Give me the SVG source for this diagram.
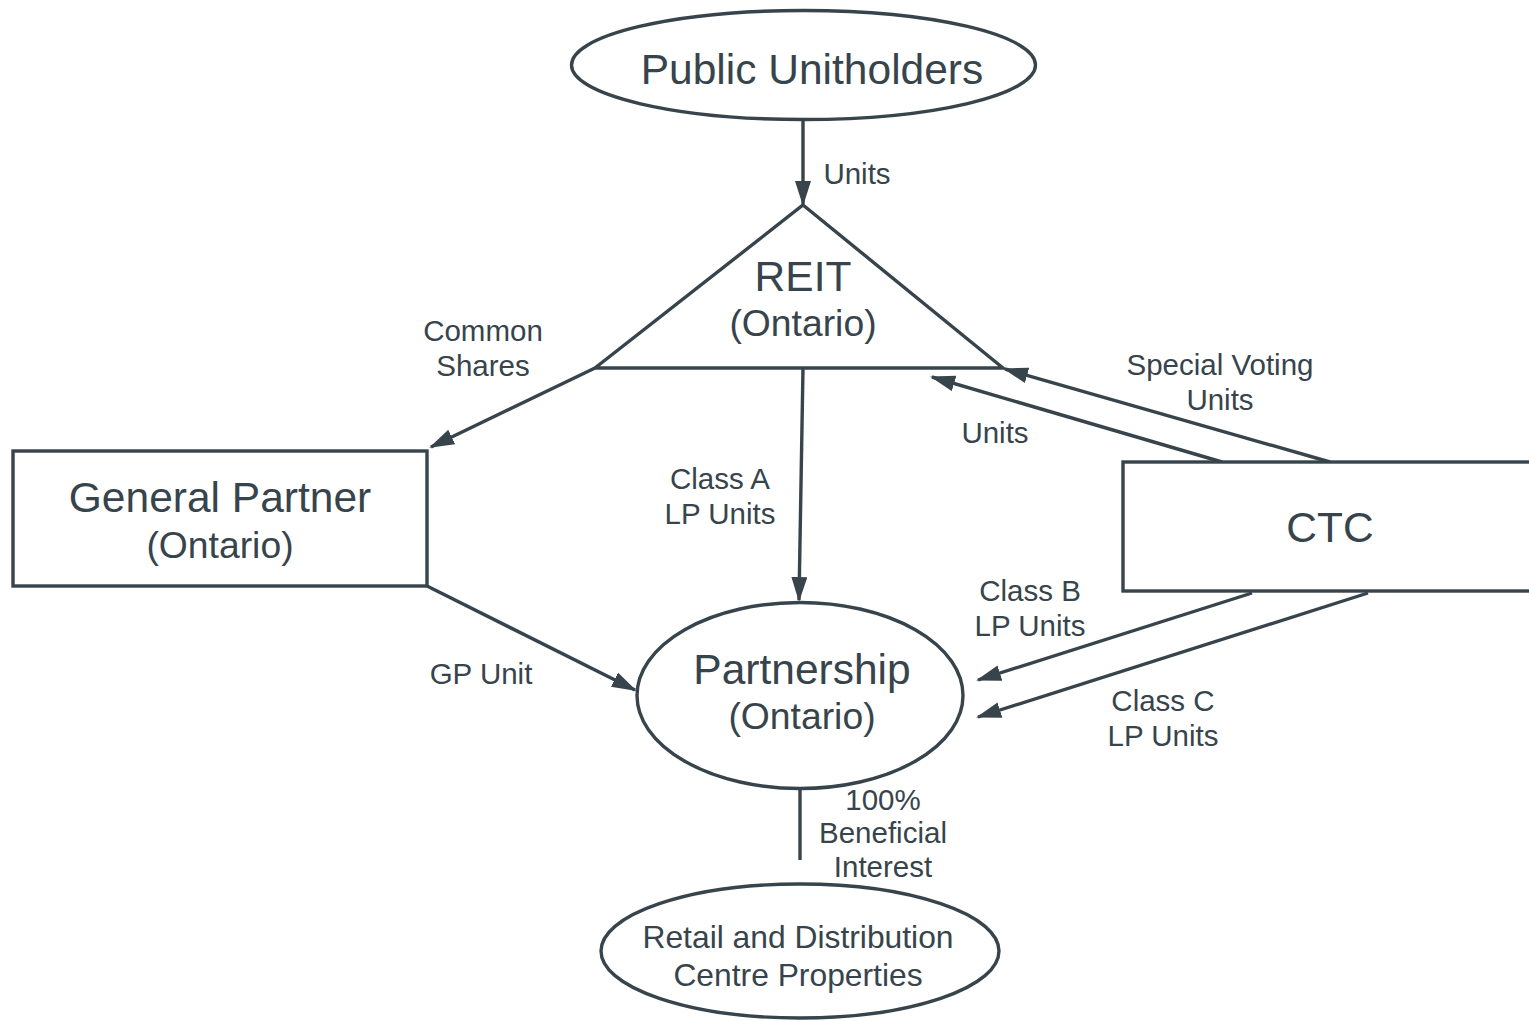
<svg xmlns="http://www.w3.org/2000/svg" width="1529" height="1021" viewBox="0 0 1529 1021">
  <style>
    .shape { fill: #ffffff; stroke: #37444c; stroke-width: 3.4; }
    .conn { fill: none; stroke: #37444c; stroke-width: 3.4; }
    .title { font-family: "Liberation Sans", Arial, sans-serif; font-size: 42.5px; fill: #37444c; text-anchor: middle; }
    .sub { font-family: "Liberation Sans", Arial, sans-serif; font-size: 37.3px; fill: #37444c; text-anchor: middle; }
    .prop { font-family: "Liberation Sans", Arial, sans-serif; font-size: 31.8px; fill: #37444c; text-anchor: middle; }
    .label { font-family: "Liberation Sans", Arial, sans-serif; font-size: 29.5px; fill: #37444c; text-anchor: middle; }
  </style>
  <defs>
    <marker id="arrow" markerUnits="userSpaceOnUse" markerWidth="26" markerHeight="18" refX="23" refY="8" orient="auto">
      <path d="M0,0 L25,8 L0,16 Z" fill="#37444c"/>
    </marker>
  </defs>
  <rect width="1529" height="1021" fill="#ffffff"/>

  <!-- connectors and their labels -->
  <g id="connectors">
    <line class="conn" x1="803" y1="120" x2="803" y2="204" marker-end="url(#arrow)"/>
    <line class="conn" x1="595" y1="368" x2="431" y2="447" marker-end="url(#arrow)"/>
    <line class="conn" x1="803" y1="368" x2="799" y2="600" marker-end="url(#arrow)"/>
    <line class="conn" x1="427" y1="586" x2="635" y2="690" marker-end="url(#arrow)"/>
    <line class="conn" x1="1222" y1="462" x2="932" y2="377" marker-end="url(#arrow)"/>
    <line class="conn" x1="1330" y1="462" x2="1005" y2="369" marker-end="url(#arrow)"/>
    <line class="conn" x1="1252" y1="593" x2="978" y2="680" marker-end="url(#arrow)"/>
    <line class="conn" x1="1368" y1="593" x2="978" y2="717" marker-end="url(#arrow)"/>
    <line class="conn" x1="800" y1="789" x2="800" y2="860"/>

    <text class="label" x="857" y="184">Units</text>
    <text class="label" x="483" y="341">Common</text>
    <text class="label" x="483" y="376">Shares</text>
    <text class="label" x="720" y="489">Class A</text>
    <text class="label" x="720" y="524">LP Units</text>
    <text class="label" x="481" y="684">GP Unit</text>
    <text class="label" x="995" y="443">Units</text>
    <text class="label" x="1220" y="375">Special Voting</text>
    <text class="label" x="1220" y="410">Units</text>
    <text class="label" x="1030" y="601">Class B</text>
    <text class="label" x="1030" y="636">LP Units</text>
    <text class="label" x="1163" y="711">Class C</text>
    <text class="label" x="1163" y="746">LP Units</text>
    <text class="label" x="883" y="810">100%</text>
    <text class="label" x="883" y="843">Beneficial</text>
    <text class="label" x="883" y="877">Interest</text>
  </g>

  <!-- nodes -->
  <g id="public-unitholders">
    <ellipse class="shape" cx="803.5" cy="65" rx="232" ry="54.5"/>
    <text class="title" x="812" y="84">Public Unitholders</text>
  </g>

  <g id="reit">
    <polygon class="shape" points="803,205 1003,368 595,368"/>
    <text class="title" x="803" y="291">REIT</text>
    <text class="sub" x="803" y="336">(Ontario)</text>
  </g>

  <g id="general-partner">
    <rect class="shape" x="13" y="451" width="414" height="135"/>
    <text class="title" x="220" y="512">General Partner</text>
    <text class="sub" x="220" y="558">(Ontario)</text>
  </g>

  <g id="ctc">
    <rect class="shape" x="1123" y="462" width="420" height="129"/>
    <text class="title" x="1330" y="542">CTC</text>
  </g>

  <g id="partnership">
    <ellipse class="shape" cx="800" cy="695.5" rx="163" ry="93"/>
    <text class="title" x="802" y="684">Partnership</text>
    <text class="sub" x="802" y="729">(Ontario)</text>
  </g>

  <g id="properties">
    <ellipse class="shape" cx="800" cy="951" rx="199" ry="67"/>
    <text class="prop" x="798" y="948">Retail and Distribution</text>
    <text class="prop" x="798" y="986">Centre Properties</text>
  </g>
</svg>
